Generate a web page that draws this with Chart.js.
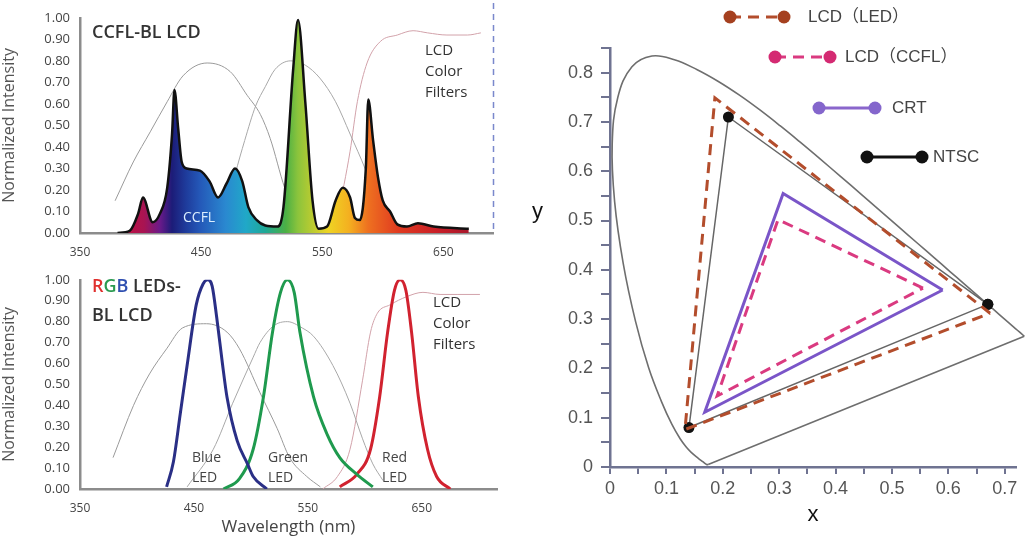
<!DOCTYPE html>
<html lang="en">
<head>
<meta charset="UTF-8">
<title>Backlight spectra and colour gamut</title>
<script src="https://cdn.jsdelivr.net/npm/chart.js"></script>
<style>
  body { margin: 0; background: #fff; width: 1025px; height: 539px; position: relative; overflow: hidden; }
  canvas { position: absolute; }
  .note { position: absolute; white-space: nowrap; line-height: 1; font-family: "Open Sans", sans-serif; color: #333; }
  .mid { font-size: 15px; line-height: 21px; }
  .led { font-size: 14px; line-height: 20px; color: #444; }
</style>
</head>
<body>
<canvas id="ccflChart" width="505" height="262" style="left:0;top:0"></canvas>
<canvas id="ledChart" width="505" height="277" style="left:0;top:262px"></canvas>
<canvas id="gamutChart" width="505" height="539" style="left:520px;top:0"></canvas>

<div class="note" style="left:92px;top:22px;font-size:18px;font-weight:600">CCFL-BL LCD</div>
<div class="note" style="left:183px;top:210px;font-size:14px;color:#dcefff">CCFL</div>
<div class="note mid" style="left:425px;top:39px">LCD<br>Color<br>Filters</div>

<div class="note" style="left:92px;top:271px;font-size:18px;font-weight:600;line-height:29px"><span style="color:#e0302e">R</span><span style="color:#2a9a50">G</span><span style="color:#2f4fb0">B</span> LEDs-<br>BL LCD</div>
<div class="note mid" style="left:433px;top:291px">LCD<br>Color<br>Filters</div>
<div class="note led" style="left:192px;top:447px">Blue<br>LED</div>
<div class="note led" style="left:268px;top:447px">Green<br>LED</div>
<div class="note led" style="left:382px;top:447px">Red<br>LED</div>

<div class="note" style="left:532px;top:200px;font-size:22px;font-family:'Liberation Sans',sans-serif;color:#111">y</div>

<script>
// ---- CCFL backlight spectrum and colour filters (top left) ----
const ccflNm  = [381, 391, 398, 402, 410, 416, 422, 426, 428, 431, 434, 438, 449, 457, 464, 471, 478, 484, 489, 496, 503, 513, 518, 526, 530, 536, 542, 547, 554, 561, 567, 573, 577, 581, 586, 588, 592, 596, 600, 606, 612, 620, 629, 642, 671];
const ccflVal = [0, 0.01, 0.09, 0.165, 0.05, 0.09, 0.21, 0.46, 0.665, 0.49, 0.33, 0.30, 0.29, 0.24, 0.165, 0.23, 0.30, 0.24, 0.12, 0.06, 0.035, 0.03, 0.12, 0.76, 0.99, 0.61, 0.15, 0.02, 0.03, 0.15, 0.21, 0.165, 0.07, 0.06, 0.30, 0.62, 0.43, 0.26, 0.15, 0.10, 0.04, 0.03, 0.045, 0.03, 0.02];

const blueFilterNm1  = [379, 394, 408, 422, 435, 455, 474, 488, 499, 507, 519, 532];
const blueFilterVal1 = [0.15, 0.33, 0.47, 0.61, 0.73, 0.79, 0.75, 0.64, 0.55, 0.44, 0.21, 0.04];
const greenFilterNm1  = [470, 478, 486, 495, 503, 511, 524, 536, 548, 561, 573, 586, 596];
const greenFilterVal1 = [0.08, 0.27, 0.43, 0.59, 0.68, 0.76, 0.80, 0.78, 0.72, 0.61, 0.46, 0.29, 0.13];
const redFilterNm1  = [563, 573, 579, 587, 598, 612, 625, 637, 653, 670, 681];
const redFilterVal1 = [0.08, 0.38, 0.61, 0.79, 0.89, 0.92, 0.94, 0.93, 0.92, 0.92, 0.93];

// ---- RGB LED backlight spectra and colour filters (bottom left) ----
const blueLedNm  = [426, 432, 438, 444, 452, 458, 462, 466, 470, 475, 479, 488, 497, 502, 514];
const blueLedVal = [0.01, 0.13, 0.36, 0.59, 0.88, 0.98, 1.0, 0.97, 0.82, 0.60, 0.44, 0.23, 0.12, 0.06, 0];
const greenLedNm  = [476, 490, 502, 511, 519, 526, 532, 538, 543, 555, 567, 578, 593, 607];
const greenLedVal = [0, 0.05, 0.19, 0.44, 0.75, 0.94, 1.0, 0.94, 0.75, 0.44, 0.26, 0.15, 0.07, 0.01];
const redLedNm  = [578, 593, 605, 613, 620, 626, 631, 636, 641, 647, 655, 663, 675];
const redLedVal = [0.01, 0.07, 0.19, 0.44, 0.75, 0.95, 1.0, 0.95, 0.75, 0.44, 0.19, 0.06, 0];

const blueFilterNm2  = [379, 397, 411, 426, 440, 461, 479, 490, 508, 523, 534, 549, 561];
const blueFilterVal2 = [0.15, 0.40, 0.55, 0.67, 0.77, 0.79, 0.75, 0.67, 0.46, 0.29, 0.15, 0.06, 0.01];
const greenFilterNm2  = [444, 467, 484, 502, 508, 520, 532, 545, 555, 572, 587, 598, 607, 616];
const greenFilterVal2 = [0.01, 0.19, 0.41, 0.63, 0.70, 0.78, 0.80, 0.77, 0.73, 0.59, 0.41, 0.24, 0.12, 0.04];
const redFilterNm2  = [563, 576, 587, 598, 605, 611, 622, 637, 651, 666, 681, 701];
const redFilterVal2 = [0, 0.06, 0.19, 0.52, 0.75, 0.84, 0.88, 0.92, 0.94, 0.93, 0.93, 0.93];

const wavelengthTicks = [350, 450, 550, 650];

// ---- CIE 1931 chromaticity (right) ----
// spectral locus, 380 nm to 700 nm
const locusX = [0.1741, 0.1733, 0.1726, 0.1714, 0.1689, 0.1644, 0.1566, 0.1440, 0.1355, 0.1241, 0.1096, 0.0913, 0.0687, 0.0454, 0.0235, 0.0082, 0.0039, 0.0139, 0.0389, 0.0743, 0.1142, 0.1547, 0.1929, 0.2296, 0.2658, 0.3016, 0.3373, 0.3731, 0.4087, 0.4441, 0.4788, 0.5125, 0.5448, 0.5752, 0.6029, 0.6270, 0.6658, 0.6915, 0.7079, 0.7190, 0.7260, 0.7300, 0.7334, 0.7347];
const locusY = [0.0050, 0.0048, 0.0048, 0.0051, 0.0069, 0.0109, 0.0177, 0.0297, 0.0399, 0.0578, 0.0868, 0.1327, 0.2007, 0.2950, 0.4127, 0.5384, 0.6548, 0.7502, 0.8120, 0.8338, 0.8262, 0.8059, 0.7816, 0.7543, 0.7243, 0.6923, 0.6589, 0.6245, 0.5896, 0.5547, 0.5202, 0.4866, 0.4544, 0.4242, 0.3965, 0.3725, 0.3340, 0.3083, 0.2920, 0.2809, 0.2740, 0.2700, 0.2666, 0.2653];
// line of purples, 700 nm back to 380 nm
const purpleX = [0.7347, 0.1741];
const purpleY = [0.2653, 0.0050];

// gamut triangles, first vertex repeated to close
const ledX  = [0.674, 0.186, 0.133, 0.674];
const ledY  = [0.312, 0.749, 0.076, 0.312];
const ccflX = [0.555, 0.298, 0.190, 0.555];
const ccflY = [0.363, 0.502, 0.144, 0.363];
const crtX  = [0.590, 0.307, 0.168, 0.590];
const crtY  = [0.359, 0.555, 0.111, 0.359];
const ntscX = [0.67, 0.21, 0.14, 0.67];
const ntscY = [0.33, 0.71, 0.08, 0.33];

const gamutLabels = ['LCD\uFF08LED\uFF09', 'LCD\uFF08CCFL\uFF09', 'CRT', 'NTSC'];

function pts(xs, ys) {
  return xs.map((x, i) => ({ x: x, y: ys[i] }));
}

// rainbow under the CCFL curve, stops in nm
const rainbowStops = [
  [381, '#c8103c'], [403, '#a81452'], [416, '#6a1a8a'], [426, '#1c1c78'], [437, '#1e3a9a'],
  [449, '#2458b8'], [470, '#2a88d0'], [487, '#20a8c8'], [503, '#1fa896'], [520, '#4cb044'],
  [530, '#8cc43c'], [555, '#eed424'], [572, '#f4b020'], [588, '#ee7020'], [613, '#e03a20'],
  [646, '#c81e28'], [671, '#a8182c']
];

function rainbowFill(context) {
  const chart = context.chart;
  const area = chart.chartArea;
  if (!area) return 'rgba(0,0,0,0)';
  const xs = chart.scales.x;
  const g = chart.ctx.createLinearGradient(area.left, 0, area.right, 0);
  rainbowStops.forEach(([nm, c]) => {
    const t = (xs.getPixelForValue(nm) - area.left) / (area.right - area.left);
    g.addColorStop(Math.min(1, Math.max(0, t)), c);
  });
  return g;
}

// dashed blue frame edge on the right of the CCFL panel
const rightEdge = {
  id: 'rightEdge',
  afterDraw(chart) {
    const { ctx, chartArea } = chart;
    ctx.save();
    ctx.strokeStyle = '#7a88cc';
    ctx.lineWidth = 1.5;
    ctx.setLineDash([6, 5]);
    ctx.beginPath();
    ctx.moveTo(chartArea.right + 0.5, 3);
    ctx.lineTo(chartArea.right + 0.5, chartArea.bottom);
    ctx.stroke();
    ctx.restore();
  }
};

const axisGray = '#8c8c8c';
const leftFont = { family: '"Open Sans", sans-serif', size: 12 };

function thinLine(data, color) {
  return { data: data, borderColor: color, borderWidth: 1, pointRadius: 0, fill: false, cubicInterpolationMode: 'monotone' };
}
function ledLine(data, color) {
  return { data: data, borderColor: color, borderWidth: 3, pointRadius: 0, fill: false, cubicInterpolationMode: 'monotone' };
}

function spectrumScales(xMax, xHeight, xPad, withTitle) {
  return {
    x: {
      type: 'linear', min: 350, max: xMax,
      afterBuildTicks: s => { s.ticks = wavelengthTicks.map(v => ({ value: v })); },
      ticks: { color: '#444', font: leftFont, padding: xPad, autoSkip: false, maxRotation: 0 },
      grid: { display: false, drawTicks: false },
      border: { display: true, color: axisGray, width: 2.5 },
      title: {
        display: withTitle, text: 'Wavelength (nm)', color: '#444',
        font: { family: '"Open Sans", sans-serif', size: 17 }, padding: { top: 0, bottom: 2 }
      },
      afterFit: s => { s.height = xHeight; }
    },
    y: {
      min: 0, max: 1,
      ticks: { stepSize: 0.1, color: '#444', font: { family: '"Open Sans", sans-serif', size: 13 }, padding: 10, callback: v => v.toFixed(2) },
      grid: { display: false, drawTicks: false },
      border: { display: true, color: axisGray, width: 2.5 },
      title: {
        display: true, text: 'Normalized Intensity', color: '#555',
        font: { family: '"Open Sans", sans-serif', size: 16 }, padding: { top: 0, bottom: 0 }
      },
      afterFit: s => { s.width = 80; }
    }
  };
}

const baseOptions = {
  responsive: false,
  animation: false,
  events: [],
  plugins: { legend: { display: false }, tooltip: { enabled: false } }
};

// top left
new Chart(document.getElementById('ccflChart'), {
  type: 'line',
  data: {
    datasets: [
      {
        data: pts(ccflNm, ccflVal), borderColor: '#111', borderWidth: 2.5, pointRadius: 0,
        fill: 'origin', backgroundColor: rainbowFill, cubicInterpolationMode: 'monotone'
      },
      thinLine(pts(blueFilterNm1, blueFilterVal1), '#9a9a9a'),
      thinLine(pts(greenFilterNm1, greenFilterVal1), '#a8a8a8'),
      thinLine(pts(redFilterNm1, redFilterVal1), '#d2a2aa')
    ]
  },
  options: Object.assign({}, baseOptions, {
    layout: { padding: { left: 0, top: 15, right: 12, bottom: 0 } },
    scales: spectrumScales(691, 29, 12, false)
  }),
  plugins: [rightEdge]
});

// bottom left
new Chart(document.getElementById('ledChart'), {
  type: 'line',
  data: {
    datasets: [
      ledLine(pts(blueLedNm, blueLedVal), '#2a2f86'),
      ledLine(pts(greenLedNm, greenLedVal), '#1f9a4e'),
      ledLine(pts(redLedNm, redLedVal), '#d1222f'),
      thinLine(pts(blueFilterNm2, blueFilterVal2), '#9a9a9a'),
      thinLine(pts(greenFilterNm2, greenFilterVal2), '#a8a8a8'),
      thinLine(pts(redFilterNm2, redFilterVal2), '#d2a2aa')
    ]
  },
  options: Object.assign({}, baseOptions, {
    layout: { padding: { left: 0, top: 10, right: 8, bottom: 0 } },
    scales: spectrumScales(716, 50, 12, true)
  })
});

// right: staggered legend drawn next to the diagram
const legendSpots = [
  { x1: 210, x2: 264, y: 17, tx: 288 },
  { x1: 255, x2: 310, y: 57, tx: 325 },
  { x1: 299, x2: 355, y: 108, tx: 372 },
  { x1: 347, x2: 402, y: 157, tx: 413 }
];

const gamutLegend = {
  id: 'gamutLegend',
  afterDraw(chart) {
    const ctx = chart.ctx;
    ctx.save();
    legendSpots.forEach((spot, i) => {
      const ds = chart.data.datasets[i];
      ctx.strokeStyle = ds.legendColor;
      ctx.lineWidth = 3;
      ctx.setLineDash(ds.borderDash || []);
      ctx.beginPath();
      ctx.moveTo(spot.x1, spot.y);
      ctx.lineTo(spot.x2, spot.y);
      ctx.stroke();
      ctx.setLineDash([]);
      ctx.fillStyle = ds.legendDot;
      [spot.x1, spot.x2].forEach(x => {
        ctx.beginPath();
        ctx.arc(x, spot.y, 6.5, 0, Math.PI * 2);
        ctx.fill();
      });
      ctx.fillStyle = '#444';
      ctx.font = '17px "Liberation Sans", "Noto Sans CJK SC", sans-serif';
      ctx.textBaseline = 'middle';
      ctx.textAlign = 'left';
      ctx.fillText(ds.label, spot.tx, spot.y);
    });
    ctx.restore();
  }
};

const gamutAxis = '#6f7391';
const rightFont = { family: '"Liberation Sans", Arial, sans-serif', size: 18 };
const tenthLabel = v => (Math.round(v * 100) % 10 === 0 ? String(+v.toFixed(1)) : '');

new Chart(document.getElementById('gamutChart'), {
  type: 'scatter',
  data: {
    datasets: [
      { label: gamutLabels[0], data: pts(ledX, ledY), borderColor: '#b34d2c', legendColor: '#b34d2c', legendDot: '#a5401f', borderWidth: 3, borderDash: [11, 7] },
      { label: gamutLabels[1], data: pts(ccflX, ccflY), borderColor: '#da3a80', legendColor: '#da3a80', legendDot: '#d42a72', borderWidth: 3, borderDash: [11, 7] },
      { label: gamutLabels[2], data: pts(crtX, crtY), borderColor: '#7a55c8', legendColor: '#8a66cc', legendDot: '#8466cc', borderWidth: 3 },
      { label: gamutLabels[3], data: pts(ntscX, ntscY), borderColor: '#666', legendColor: '#111', legendDot: '#111', borderWidth: 1.5, pointRadius: 5.5, pointBackgroundColor: '#111', pointBorderWidth: 0 },
      { label: 'locus', data: pts(locusX, locusY), borderColor: '#6e6e6e', borderWidth: 1.6, tension: 0.4, clip: false },
      { label: 'purples', data: pts(purpleX, purpleY), borderColor: '#6e6e6e', borderWidth: 1.6, clip: false }
    ].map(ds => Object.assign({ showLine: true, pointRadius: 0, tension: 0, fill: false }, ds))
  },
  options: Object.assign({}, baseOptions, {
    layout: { padding: { left: 0, top: 48, right: 9, bottom: 0 } },
    scales: {
      x: {
        type: 'linear', min: 0, max: 0.72,
        ticks: { stepSize: 0.05, includeBounds: false, autoSkip: false, maxRotation: 0, color: '#555', font: rightFont, padding: 4, callback: tenthLabel },
        grid: { display: true, drawOnChartArea: false, drawTicks: true, tickLength: 7, color: gamutAxis, lineWidth: 2 },
        border: { display: true, color: gamutAxis, width: 2.5 },
        title: { display: true, text: 'x', color: '#111', font: { family: '"Liberation Sans", sans-serif', size: 22 }, padding: { top: 0, bottom: 11 } },
        afterFit: s => { s.height = 72; }
      },
      y: {
        min: 0, max: 0.85,
        ticks: { stepSize: 0.05, includeBounds: false, autoSkip: false, color: '#555', font: rightFont, padding: 8, callback: tenthLabel },
        grid: { display: true, drawOnChartArea: false, drawTicks: true, tickLength: 9, color: gamutAxis, lineWidth: 2 },
        border: { display: true, color: gamutAxis, width: 2.5 },
        afterFit: s => { s.width = 90; }
      }
    }
  }),
  plugins: [gamutLegend]
});
</script>
</body>
</html>
